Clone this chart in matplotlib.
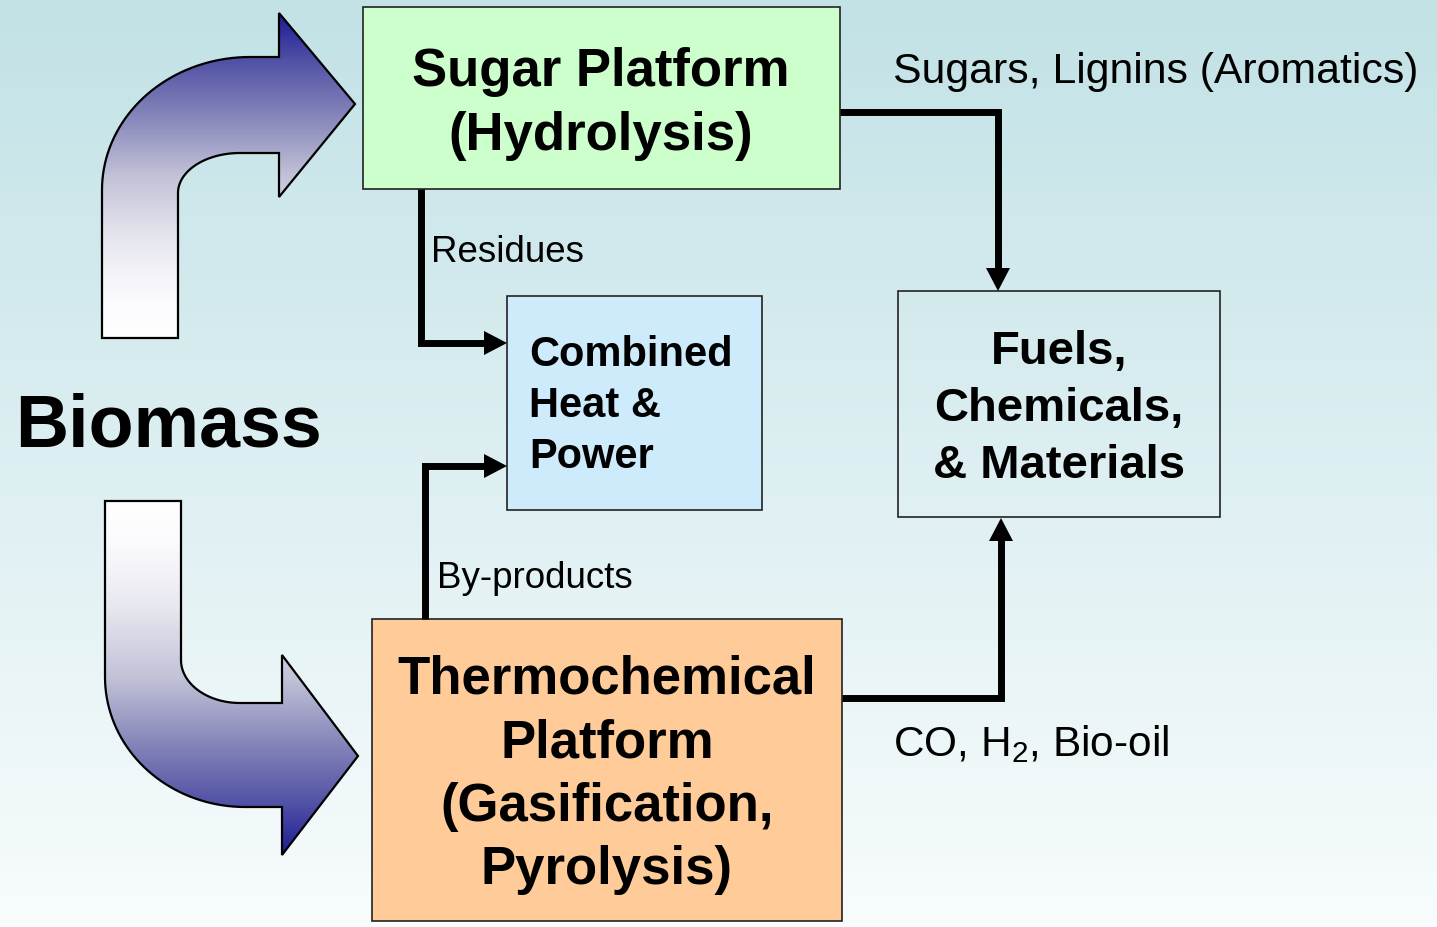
import numpy as np
import matplotlib.pyplot as plt
from matplotlib.patches import Rectangle, Polygon, PathPatch
from matplotlib.path import Path
from matplotlib.colors import LinearSegmentedColormap

plt.rcParams['font.family'] = ['Liberation Sans', 'DejaVu Sans']
plt.rcParams['mathtext.fontset'] = 'custom'
plt.rcParams['mathtext.rm'] = 'Liberation Sans'

# diagram content
source_label = "Biomass"
box_labels = ["Sugar Platform\n(Hydrolysis)",
              "Combined\nHeat &\nPower",
              "Fuels,\nChemicals,\n& Materials",
              "Thermochemical\nPlatform\n(Gasification,\nPyrolysis)"]
box_colors = ["#ccffcc", "#cdebfb", "none", "#ffcc99"]
flow_labels = ["Sugars, Lignins (Aromatics)", "Residues",
               "By-products", "CO, H$_2$, Bio-oil"]

W, H = 1437, 927
fig = plt.figure(figsize=(W / 100, H / 100), dpi=100)
ax = fig.add_axes([0, 0, 1, 1])

# background gradient
bg = LinearSegmentedColormap.from_list("bg", ["#c2e2e6", "#f8fcfd"])
ax.imshow(np.linspace(0, 1, 256).reshape(-1, 1), cmap=bg, aspect='auto',
          extent=(0, W, H, 0), origin='upper', zorder=0)

# curved block arrows with navy-to-white gradient
def arc(cx, cy, rx, ry, t0, t1, n=40):
    t = np.linspace(t0, t1, n)
    return list(zip(cx + rx * np.cos(t), cy - ry * np.sin(t)))

navy = LinearSegmentedColormap.from_list(
    "navy", [(0, "#1a1a96"), (0.15, "#5252a6"), (0.3, "#8080b8"), (0.5, "#c2c2d8"),
             (0.7, "#e8e8f0"), (0.88, "#fbfbfe"), (1, "#ffffff")])

top_pts = [(102, 338)] + arc(250, 190, 148, 133, np.pi, np.pi / 2) + \
    [(279, 57), (279, 13), (355, 104), (279, 197), (279, 153)] + \
    arc(240, 193, 62, 40, np.pi / 2, np.pi) + [(178, 338)]
bot_pts = [(105, 501)] + arc(245, 677, 140, 130, np.pi, 1.5 * np.pi) + \
    [(282, 807), (282, 855), (358, 756), (282, 655), (282, 703)] + \
    arc(240, 660, 59, 43, 1.5 * np.pi, np.pi) + [(181, 501)]

for pts, ext, grad in [(top_pts, (100, 360, 340, 12), np.linspace(0, 1, 256)),
                       (bot_pts, (100, 360, 857, 499), np.linspace(1, 0, 256))]:
    path = Path(pts + [pts[0]], closed=True)
    patch = PathPatch(path, facecolor='none', edgecolor='black', lw=1.6, zorder=3)
    ax.add_patch(patch)
    im = ax.imshow(grad.reshape(-1, 1), cmap=navy, aspect='auto',
                   extent=ext, origin='upper', zorder=2)
    im.set_clip_path(patch)

# boxes
boxes = [(363, 7, 477, 182), (507, 296, 255, 214), (898, 291, 322, 226), (372, 619, 470, 302)]
for (x, y, w, h), c in zip(boxes, box_colors):
    ax.add_patch(Rectangle((x, y), w, h, facecolor=c, edgecolor='#222222', lw=1.2, zorder=4))

ax.text(601, 104, box_labels[0], ha='center', va='center', fontsize=38,
        fontweight='bold', linespacing=1.36, zorder=5)
ax.text(529, 406, box_labels[1], ha='left', va='center', fontsize=30,
        fontweight='bold', linespacing=1.35, zorder=5)
ax.text(1059, 409, box_labels[2], ha='center', va='center', fontsize=34,
        fontweight='bold', linespacing=1.37, zorder=5)
ax.text(607, 775, box_labels[3], ha='center', va='center', fontsize=38,
        fontweight='bold', linespacing=1.35, zorder=5)

ax.text(15, 427, source_label, ha='left', va='center', fontsize=53,
        fontweight='bold', zorder=5)

# connectors
def head(tip, d, L=23, hw=12):
    tx, ty = tip
    dx, dy = d
    bx, by = tx - dx * L, ty - dy * L
    px, py = -dy, dx
    ax.add_patch(Polygon([(tx, ty), (bx + px * hw, by + py * hw), (bx - px * hw, by - py * hw)],
                         closed=True, facecolor='black', edgecolor='none', zorder=6))

connectors = [([(840, 112), (998, 112), (998, 270)], (998, 291), (0, 1)),
              ([(421, 189), (421, 343), (486, 343)], (507, 343), (1, 0)),
              ([(425, 619), (425, 466), (486, 466)], (507, 466), (1, 0)),
              ([(842, 698), (1001, 698), (1001, 539)], (1001, 518), (0, -1))]
for pts, tip, d in connectors:
    xs, ys = zip(*pts)
    ax.plot(xs, ys, color='black', lw=5, solid_joinstyle='miter',
            solid_capstyle='butt', zorder=6)
    head(tip, d)

ax.text(893, 72, flow_labels[0], ha='left', va='center', fontsize=30.8, zorder=5)
ax.text(431, 252, flow_labels[1], ha='left', va='center', fontsize=26.5, zorder=5)
ax.text(437, 578, flow_labels[2], ha='left', va='center', fontsize=26.5, zorder=5)
ax.text(893, 744, flow_labels[3], ha='left', va='center', fontsize=30.5, zorder=5)

ax.set_xlim(0, W)
ax.set_ylim(H, 0)
ax.axis('off')
fig.savefig("out.png", dpi=100)
